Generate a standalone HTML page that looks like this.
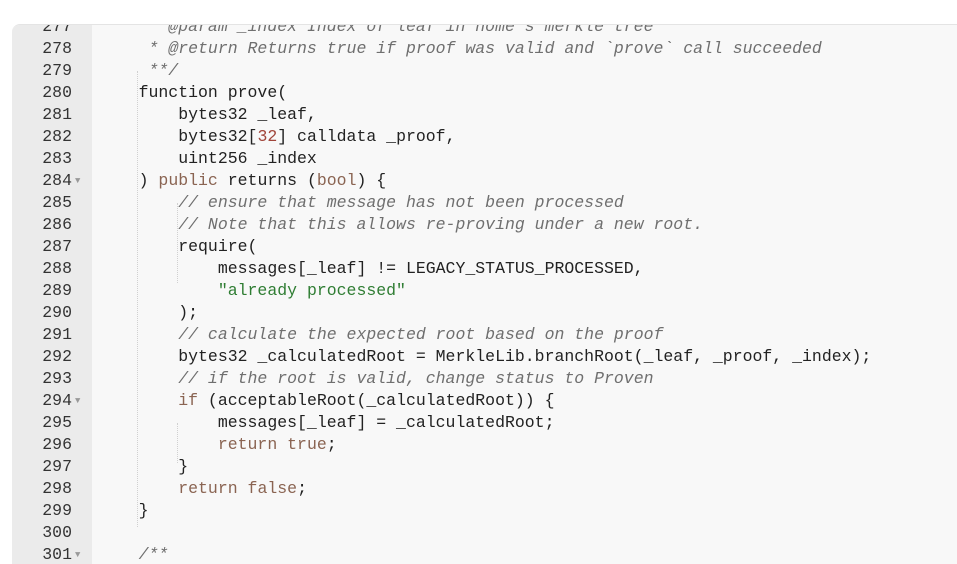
<!DOCTYPE html>
<html><head><style>
html,body{margin:0;padding:0;background:#fff;width:957px;height:563px;overflow:hidden}
#box{position:absolute;left:12px;top:24px;width:960px;height:539px;background:#f8f8f8;border-top:1px solid #e4e4e4;border-radius:8px 0 0 0;overflow:hidden}
#gut{position:absolute;left:0;top:0;width:80px;height:100%;background:#ebebeb}
#lines{position:absolute;left:0;top:-9px;font-family:"Liberation Mono",monospace;font-size:16.5px}
.l{height:22px;line-height:22px;white-space:pre;position:relative}
.n{position:absolute;left:0;width:60px;text-align:right;color:#333}
.f{position:absolute;left:63px;color:#999;font-size:9px}
.c{position:absolute;left:87px;color:#222}
.cm{color:#6f6f6f;font-style:italic}
.k{color:#8a6452}
.s{color:#2f7d33}
.r{color:#a0453a}
.g{position:absolute;top:0;width:0;border-left:1px dotted #d0d0d0}
</style></head><body>
<div id="box"><div id="gut"></div>
<div class="g" style="left:125px;top:46px;height:456px"></div>
<div class="g" style="left:165px;top:178px;height:80px"></div>
<div class="g" style="left:165px;top:398px;height:40px"></div>
<div id="lines">
<div class="l"><span class="n">277</span><span class="c cm">     * @param _index Index of leaf in home's merkle tree</span></div>
<div class="l"><span class="n">278</span><span class="c cm">     * @return Returns true if proof was valid and `prove` call succeeded</span></div>
<div class="l"><span class="n">279</span><span class="c cm">     **/</span></div>
<div class="l"><span class="n">280</span><span class="c">    function prove(</span></div>
<div class="l"><span class="n">281</span><span class="c">        bytes32 _leaf,</span></div>
<div class="l"><span class="n">282</span><span class="c">        bytes32[<span class="r">32</span>] calldata _proof,</span></div>
<div class="l"><span class="n">283</span><span class="c">        uint256 _index</span></div>
<div class="l"><span class="n">284</span><span class="f">▼</span><span class="c">    ) <span class="k">public</span> returns (<span class="k">bool</span>) {</span></div>
<div class="l"><span class="n">285</span><span class="c">        <span class="cm">// ensure that message has not been processed</span></span></div>
<div class="l"><span class="n">286</span><span class="c">        <span class="cm">// Note that this allows re-proving under a new root.</span></span></div>
<div class="l"><span class="n">287</span><span class="c">        require(</span></div>
<div class="l"><span class="n">288</span><span class="c">            messages[_leaf] != LEGACY_STATUS_PROCESSED,</span></div>
<div class="l"><span class="n">289</span><span class="c">            <span class="s">"already processed"</span></span></div>
<div class="l"><span class="n">290</span><span class="c">        );</span></div>
<div class="l"><span class="n">291</span><span class="c">        <span class="cm">// calculate the expected root based on the proof</span></span></div>
<div class="l"><span class="n">292</span><span class="c">        bytes32 _calculatedRoot = MerkleLib.branchRoot(_leaf, _proof, _index);</span></div>
<div class="l"><span class="n">293</span><span class="c">        <span class="cm">// if the root is valid, change status to Proven</span></span></div>
<div class="l"><span class="n">294</span><span class="f">▼</span><span class="c">        <span class="k">if</span> (acceptableRoot(_calculatedRoot)) {</span></div>
<div class="l"><span class="n">295</span><span class="c">            messages[_leaf] = _calculatedRoot;</span></div>
<div class="l"><span class="n">296</span><span class="c">            <span class="k">return</span> <span class="k">true</span>;</span></div>
<div class="l"><span class="n">297</span><span class="c">        }</span></div>
<div class="l"><span class="n">298</span><span class="c">        <span class="k">return</span> <span class="k">false</span>;</span></div>
<div class="l"><span class="n">299</span><span class="c">    }</span></div>
<div class="l"><span class="n">300</span><span class="c"></span></div>
<div class="l"><span class="n">301</span><span class="f">▼</span><span class="c cm">    /**</span></div>
</div></div>
</body></html>
